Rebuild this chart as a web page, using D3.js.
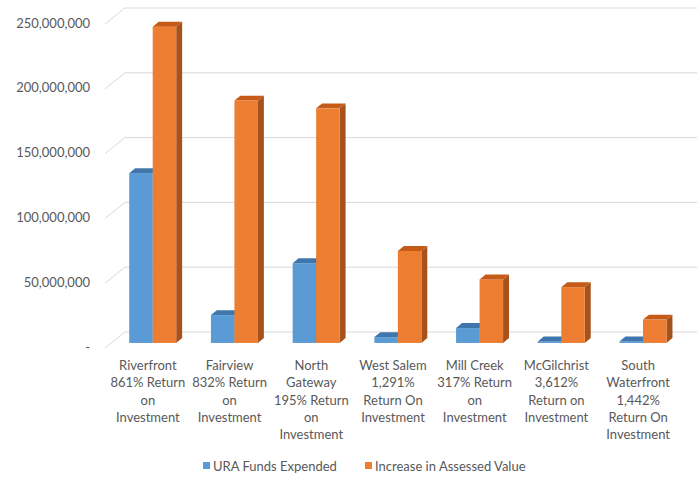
<!DOCTYPE html>
<html>
<head>
<meta charset="utf-8">
<script src="https://cdn.jsdelivr.net/npm/d3@7"></script>
<style>
  body { margin: 0; background: #fff; }
  text { font-family: Lato, "Open Sans", sans-serif; fill: #595959; }
</style>
</head>
<body>
<script>
// data
const categories = ["Riverfront", "Fairview", "North Gateway", "West Salem", "Mill Creek", "McGilchrist", "South Waterfront"];
const labelLines = [
  ["Riverfront", "861% Return", "on", "Investment"],
  ["Fairview", "832% Return", "on", "Investment"],
  ["North", "Gateway", "195% Return", "on", "Investment"],
  ["West Salem", "1,291%", "Return On", "Investment"],
  ["Mill Creek", "317% Return", "on", "Investment"],
  ["McGilchrist", "3,612%", "Return on", "Investment"],
  ["South", "Waterfront", "1,442%", "Return On", "Investment"]
];
const seriesNames = ["URA Funds Expended", "Increase in Assessed Value"];
const uraFunds = [131000000, 21500000, 61500000, 4500000, 11500000, 1200000, 1200000];
const increaseValue = [244000000, 187000000, 181000000, 71000000, 49000000, 43000000, 18000000];
const yTicks = [0, 50000000, 100000000, 150000000, 200000000, 250000000];

const width = 698, height = 486;

const svg = d3.select("body")
  .append("svg")
  .attr("width", width)
  .attr("height", height);

// oblique 3d: full floor depth vector
const depthX = 18, depthY = -15;
const barFront = 0.27, barBack = 0.6;

const y = d3.scaleLinear()
  .domain([0, 250000000])
  .range([347, 23]);

const x0 = d3.scaleBand()
  .domain(categories)
  .range([107, 679]);

const pairW = 47;
const x1 = d3.scaleBand()
  .domain(seriesNames)
  .range([0, pairW]);

const colors = {
  "URA Funds Expended": {front: "#5b9bd5", top: "#3f77ad", side: "#41719c"},
  "Increase in Assessed Value": {front: "#ed7d31", top: "#c65b18", side: "#a5521c"}
};

// back wall gridlines + left wall diagonals
const grid = svg.append("g");
yTicks.forEach(t => {
  grid.append("line")
    .attr("x1", 107 + depthX).attr("x2", 697)
    .attr("y1", y(t) + depthY).attr("y2", y(t) + depthY)
    .attr("stroke", "#d9d9d9").attr("stroke-width", 1);
  grid.append("line")
    .attr("x1", 105).attr("y1", y(t) + 1)
    .attr("x2", 107 + depthX).attr("y2", y(t) + depthY)
    .attr("stroke", "#d9d9d9").attr("stroke-width", 1);
});

// y labels
const fmt = v => v === 0 ? "-" : d3.format(",")(v);
svg.append("g").selectAll("text")
  .data(yTicks)
  .enter()
  .append("text")
  .attr("x", v => v === 0 ? 90 : 90)
  .attr("y", v => y(v))
  .attr("dy", "0.35em")
  .attr("text-anchor", "end")
  .style("font-size", "13px")
  .text(fmt);

// bars
const rows = [];
categories.forEach((c, i) => {
  rows.push({cat: c, s: seriesNames[0], v: uraFunds[i]});
  rows.push({cat: c, s: seriesNames[1], v: increaseValue[i]});
});

const fx = depthX * barFront, fy = depthY * barFront;
const dx = depthX * (barBack - barFront), dy = depthY * (barBack - barFront);

const bars = svg.append("g");
rows.forEach(d => {
  const bx = x0(d.cat) + (x0.bandwidth() - pairW) / 2 + x1(d.s) + fx;
  const bw = x1.bandwidth();
  const yt = y(d.v) + fy, yb = y(0) + fy;
  const c = colors[d.s];
  const g = bars.append("g");
  // side
  g.append("path")
    .attr("d", `M${bx + bw},${yt} L${bx + bw + dx},${yt + dy} L${bx + bw + dx},${yb + dy} L${bx + bw},${yb} Z`)
    .attr("fill", c.side);
  // front
  g.append("rect")
    .attr("x", bx).attr("y", yt)
    .attr("width", bw).attr("height", Math.max(0, yb - yt))
    .attr("fill", c.front);
  // top
  g.append("path")
    .attr("d", `M${bx},${yt} L${bx + bw},${yt} L${bx + bw + dx},${yt + dy} L${bx + dx},${yt + dy} Z`)
    .attr("fill", c.top);
});

// category labels
const lab = svg.append("g");
categories.forEach((c, i) => {
  const t = lab.append("text")
    .attr("x", x0(c) + x0.bandwidth() / 2)
    .attr("y", 370)
    .attr("text-anchor", "middle")
    .style("font-size", "13px");
  labelLines[i].forEach((ln, j) => {
    t.append("tspan")
      .attr("x", x0(c) + x0.bandwidth() / 2)
      .attr("dy", j === 0 ? 0 : 17.3)
      .text(ln);
  });
});

// legend
const legend = svg.append("g");
const legendX = [203, 365];
seriesNames.forEach((s, i) => {
  legend.append("rect")
    .attr("x", legendX[i]).attr("y", 462)
    .attr("width", 7).attr("height", 7)
    .attr("fill", colors[s].front);
  legend.append("text")
    .attr("x", legendX[i] + 10).attr("y", 466)
    .attr("dy", "0.35em")
    .style("font-size", "13px")
    .text(s);
});
</script>
</body>
</html>
